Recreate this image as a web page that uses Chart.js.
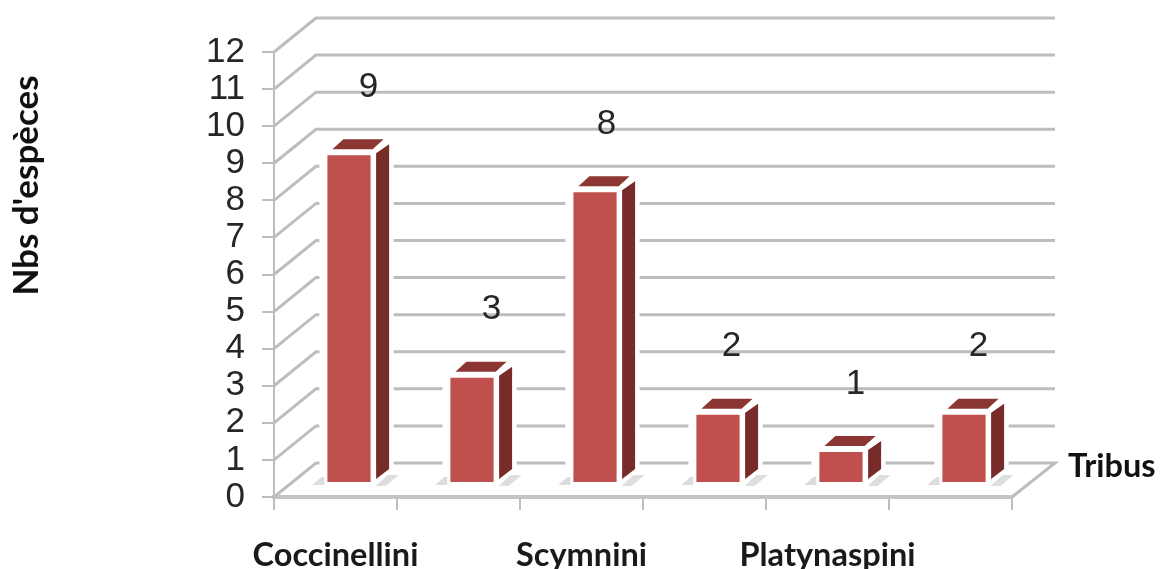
<!DOCTYPE html>
<html>
<head>
<meta charset="utf-8">
<style>
  html, body { margin: 0; padding: 0; background: #fff; }
  #wrap { width: 1160px; height: 569px; }
</style>
<script src="https://cdn.jsdelivr.net/npm/chart.js@4"></script>
</head>
<body>
<div id="wrap"><canvas id="chart" width="1160" height="569"></canvas></div>
<script>
// Number of species per tribe
const categories = ['Coccinellini', '', 'Scymnini', '', 'Platynaspini', ''];
const speciesCounts = [9, 3, 8, 2, 1, 2];
const yTitle = "Nbs d'espèces";
const xTitle = 'Tribus';

const FACE = '#c0504d', TOP = '#8b3633', SIDE = '#772c2a', GRID = '#bdbdbd';
const WALL_DX = 42, WALL_DY = 34;   // depth of the pseudo-3D box
const BAR_DX = 13.5, BAR_DY = 11;   // bars stand in the middle of the floor
const labelShift = [0, 0, -8, -6, -5, -5];   // horizontal fine-tuning of the value labels

function poly(ctx, pts, fill) {
  ctx.beginPath();
  pts.forEach((p, i) => i ? ctx.lineTo(p[0], p[1]) : ctx.moveTo(p[0], p[1]));
  ctx.closePath();
  ctx.fillStyle = fill;
  ctx.fill();
}

const box3d = {
  id: 'box3d',
  beforeDatasetsDraw(chart) {
    const { ctx, scales: { x, y } } = chart;
    const l = x.left, r = x.right;
    ctx.save();
    // back wall, left wall and floor lines
    ctx.strokeStyle = GRID;
    ctx.lineWidth = 3;
    for (const v of y.ticks.map(t => t.value)) {
      const py = y.getPixelForValue(v);
      ctx.beginPath();
      ctx.moveTo(l, py);
      ctx.lineTo(l + WALL_DX, py - WALL_DY);
      ctx.lineTo(r + WALL_DX + 1, py - WALL_DY);
      if (v === 0) ctx.lineTo(r, py);
      ctx.stroke();
    }
    // bar sides, tops and floor shadows
    chart.getDatasetMeta(0).data.forEach(bar => {
      const L = bar.x - bar.width / 2 + BAR_DX, R = bar.x + bar.width / 2 + BAR_DX;
      const T = bar.y - BAR_DY, B = bar.base - BAR_DY;
      ctx.fillStyle = '#fff';
      ctx.fillRect(L - 5, T - 16, R - L + 25, B - T + 18);
      poly(ctx, [[L - 12, B], [L - 3, B - 8], [L, B - 8], [L, B]], '#dcdcdc');
      poly(ctx, [[R + 2, B + 1], [R + 14, B - 10], [R + 25, B - 10], [R + 12, B + 1]], '#dedede');
      poly(ctx, [[L + 8, T - 3], [L + 19, T - 13], [R + 10, T - 13], [R - 1, T - 3]], TOP);
      poly(ctx, [[R + 2.5, T + 1], [R + 15.5, T - 8], [R + 15.5, B - 16], [R + 2.5, B - 6]], SIDE);
    });
    // the library's own bars are shifted onto the middle of the floor
    ctx.translate(BAR_DX, -BAR_DY);
  },
  afterDatasetsDraw(chart) {
    const { ctx, scales: { x, y } } = chart;
    ctx.restore();
    ctx.save();
    // value labels floating above each bar
    ctx.fillStyle = '#262626';
    ctx.font = '35px "Liberation Sans"';
    ctx.textAlign = 'center';
    ctx.textBaseline = 'middle';
    chart.getDatasetMeta(0).data.forEach((bar, i) => {
      ctx.fillText(String(speciesCounts[i]), bar.x + 33 + labelShift[i], bar.y - 76);
    });
    // title of the category axis, at the far end of the floor
    ctx.fillStyle = '#111';
    ctx.font = 'bold 32.5px Lato';
    ctx.textAlign = 'left';
    ctx.fillText(xTitle, x.right + 56, y.getPixelForValue(0) - 30);
    // title of the value axis, rotated along the left edge
    ctx.font = 'bold 35px Lato';
    ctx.textAlign = 'center';
    ctx.translate(27, y.getPixelForValue(8.4));
    ctx.rotate(-Math.PI / 2);
    ctx.fillText(yTitle, 0, 0);
    ctx.restore();
  }
};

new Chart(document.getElementById('chart'), {
  type: 'bar',
  data: {
    labels: categories,
    datasets: [{
      data: speciesCounts,
      backgroundColor: FACE,
      borderColor: '#ffffff',
      borderWidth: 3,
      borderSkipped: false,
      barPercentage: 0.4,
      categoryPercentage: 1
    }]
  },
  options: {
    responsive: false,
    animation: false,
    layout: { padding: { top: 52, right: 148, left: 0, bottom: 0 } },
    plugins: { legend: { display: false }, tooltip: { enabled: false } },
    scales: {
      x: {
        afterFit(s) { s.height = 72; },
        grid: { drawOnChartArea: false, color: GRID, lineWidth: 2, tickLength: 13 },
        border: { color: '#c4c4c4', width: 4 },
        ticks: { autoSkip: false, maxRotation: 0, padding: 26, color: '#1a1a1a',
                 font: { family: 'Lato', weight: 'bold', size: 32.5 } }
      },
      y: {
        min: 0, max: 12,
        afterFit(s) { s.width = 274; },
        grid: { drawOnChartArea: false, color: GRID, lineWidth: 2, tickLength: 12 },
        border: { color: GRID, width: 2 },
        ticks: { autoSkip: false, stepSize: 1, padding: 17, color: '#262626',
                 font: { family: 'Liberation Sans', size: 35 } }
      }
    }
  },
  plugins: [box3d]
});
</script>
</body>
</html>
